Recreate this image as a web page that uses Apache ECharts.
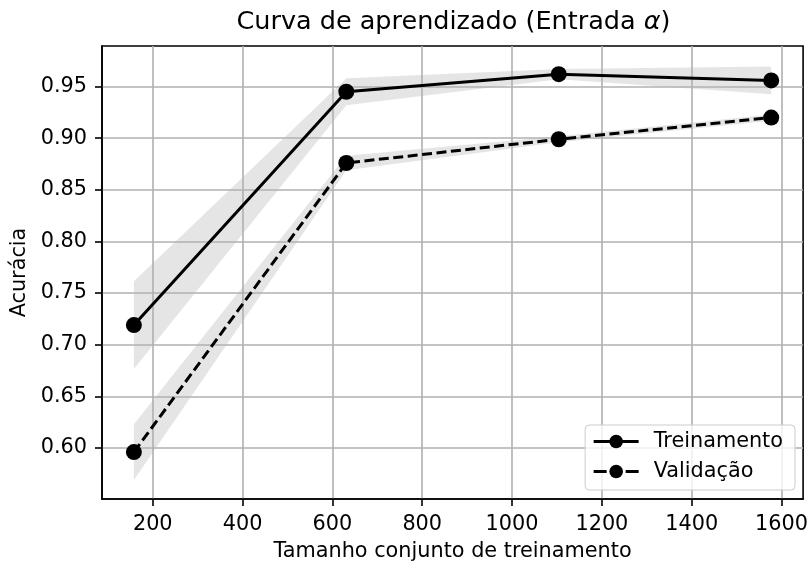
<!DOCTYPE html>
<html>
<head>
<meta charset="utf-8">
<script src="https://cdn.jsdelivr.net/npm/echarts@6/dist/echarts.min.js"></script>
<style>
  html, body { margin: 0; padding: 0; background: #ffffff; }
  #chart { width: 811px; height: 567px; }
</style>
</head>
<body>
<div id="chart"></div>
<script>
// Learning curve: training sizes, mean accuracy and spread (std) per size
const trainSizes = [158, 631, 1104, 1577];
const trainMean = [0.719, 0.945, 0.962, 0.956];
const trainStd = [0.0425, 0.013, 0.005, 0.0135];
const valMean = [0.596, 0.876, 0.899, 0.920];
const valStd = [0.027, 0.007, 0.003, 0.003];

const xTicks = [200, 400, 600, 800, 1000, 1200, 1400, 1600];
const yTicks = [0.60, 0.65, 0.70, 0.75, 0.80, 0.85, 0.90, 0.95];

const FONT = 'DejaVu Sans';
const LINE_W = 3;

// Shaded band (mean ± std) drawn as one polygon through the axis scales
function bandSeries(mean, std) {
  return {
    type: 'custom',
    silent: true,
    z: 0,
    data: trainSizes.map((x, i) => [x, mean[i] - std[i], mean[i] + std[i]]),
    encode: { x: 0, y: [1, 2] },
    renderItem: function (params, api) {
      if (params.dataIndex !== 0) return null;
      const upper = trainSizes.map((x, i) => api.coord([x, mean[i] + std[i]]));
      const lower = trainSizes.map((x, i) => api.coord([x, mean[i] - std[i]])).reverse();
      return {
        type: 'polygon',
        shape: { points: upper.concat(lower) },
        style: { fill: 'rgba(0,0,0,0.1)', stroke: null }
      };
    }
  };
}

const chart = echarts.init(document.getElementById('chart'), null, { renderer: 'canvas' });

chart.setOption({
  animation: false,
  backgroundColor: '#ffffff',
  textStyle: { fontFamily: FONT, color: '#000' },
  title: {
    text: 'Curva de aprendizado (Entrada {a|α})',
    left: 453.5,
    top: 9,
    padding: 0,
    textAlign: 'center',
    textStyle: {
      fontFamily: FONT,
      fontSize: 25.5,
      fontWeight: 'normal',
      color: '#000',
      rich: {
        a: { fontFamily: FONT, fontStyle: 'italic', fontSize: 25.5, color: '#000' }
      }
    }
  },
  grid: {
    left: 102, right: 6, top: 46, bottom: 64,
    show: true,
    borderColor: '#000',
    borderWidth: 1.6,
    backgroundColor: 'transparent'
  },
  legend: {
    right: 16,
    top: 425,
    orient: 'vertical',
    itemWidth: 45,
    itemHeight: 17,
    itemGap: 9,
    padding: [6, 12, 8, 7],
    backgroundColor: 'rgba(255,255,255,0.8)',
    borderColor: '#cccccc',
    borderWidth: 1,
    borderRadius: 4,
    lineStyle: { width: LINE_W },
    textStyle: { fontFamily: FONT, fontSize: 20.8, color: '#000', padding: [0, 0, 0, 10] },
    data: [
      { name: 'Treinamento' },
      { name: 'Validação', lineStyle: { width: LINE_W, type: [13, 19] } }
    ]
  },
  xAxis: {
    type: 'value',
    min: 87,
    max: 1648,
    z: 1,
    name: 'Tamanho conjunto de treinamento',
    nameLocation: 'middle',
    nameGap: 42,
    nameTextStyle: { fontFamily: FONT, fontSize: 20.8, color: '#000' },
    axisLine: { show: true, lineStyle: { color: '#000', width: 1.6 } },
    axisTick: { show: true, length: 7, inside: false, customValues: xTicks, lineStyle: { color: '#000', width: 1.6 } },
    axisLabel: {
      customValues: xTicks,
      margin: 15,
      fontFamily: FONT,
      fontSize: 20.8,
      color: '#000',
      formatter: v => String(v)
    },
    splitLine: { show: true, lineStyle: { color: '#b0b0b0', width: 1.6 } }
  },
  yAxis: {
    type: 'value',
    min: 0.5506,
    max: 0.9893,
    z: 1,
    name: 'Acurácia',
    nameLocation: 'middle',
    nameGap: 71,
    nameRotate: 90,
    nameTextStyle: { fontFamily: FONT, fontSize: 20.8, color: '#000' },
    axisLine: { show: true, lineStyle: { color: '#000', width: 1.6 } },
    axisTick: { show: true, length: 7, inside: false, customValues: yTicks, lineStyle: { color: '#000', width: 1.6 } },
    axisLabel: {
      customValues: yTicks,
      margin: 15,
      fontFamily: FONT,
      fontSize: 20.8,
      color: '#000',
      formatter: v => v.toFixed(2)
    },
    splitLine: { show: true, lineStyle: { color: '#b0b0b0', width: 1.6 } }
  },
  series: [
    bandSeries(trainMean, trainStd),
    bandSeries(valMean, valStd),
    {
      name: 'Treinamento',
      type: 'line',
      z: 3,
      data: trainSizes.map((x, i) => [x, trainMean[i]]),
      symbol: 'circle',
      symbolSize: 16,
      showAllSymbol: true,
      itemStyle: { color: '#000' },
      lineStyle: { color: '#000', width: LINE_W }
    },
    {
      name: 'Validação',
      type: 'line',
      z: 3,
      data: trainSizes.map((x, i) => [x, valMean[i]]),
      symbol: 'circle',
      symbolSize: 16,
      showAllSymbol: true,
      itemStyle: { color: '#000' },
      lineStyle: { color: '#000', width: LINE_W, type: [10, 4.5] }
    }
  ]
});
</script>
</body>
</html>
